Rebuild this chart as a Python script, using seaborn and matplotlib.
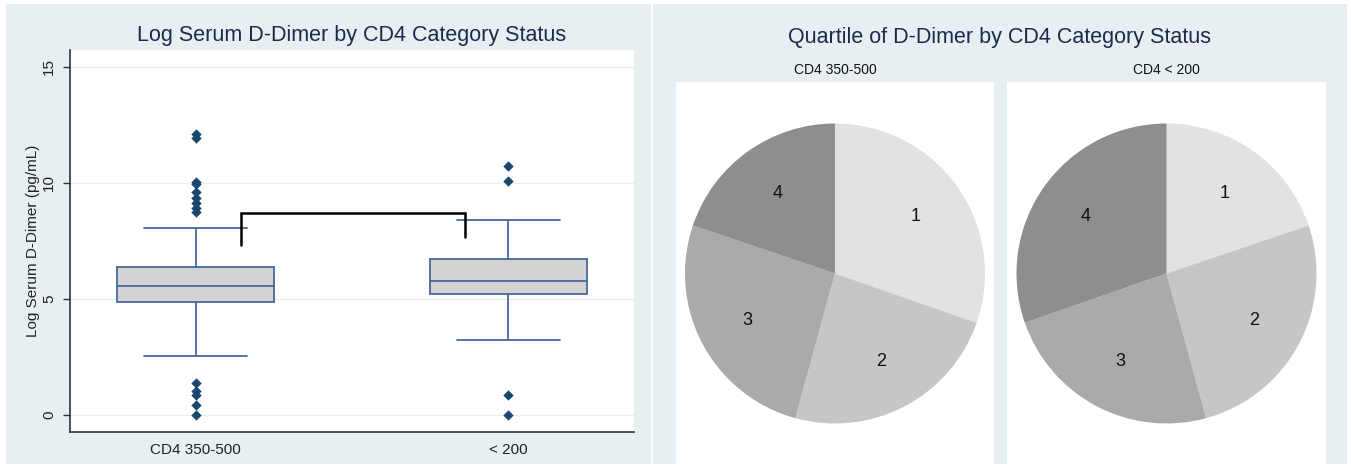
import matplotlib
matplotlib.use("Agg")
import matplotlib.pyplot as plt
import seaborn as sns
import pandas as pd
from matplotlib.patches import Rectangle

# ---------------- data ----------------
groups = ["CD4 350-500", "< 200"]
whisker_low = [2.54, 3.23]
q1 = [4.87, 5.22]
median = [5.56, 5.78]
q3 = [6.38, 6.72]
whisker_high = [8.06, 8.42]
outliers_g1 = [12.1, 11.95, 10.05, 9.95, 9.6, 9.35, 9.12, 8.9, 8.76,
               1.37, 1.05, 0.88, 0.43, 0.0]
outliers_g2 = [10.73, 10.09, 0.88, 0.0]
yticks = [0, 5, 10, 15]

bracket_x = [0.145, 0.145, 0.861, 0.861]
bracket_y = [7.33, 8.7, 8.7, 7.67]

pie_titles = ["CD4 350-500", "CD4 < 200"]
quartile_labels = ["1", "2", "3", "4"]
pie_g1 = [30.3, 23.9, 25.9, 19.8]
pie_g2 = [19.8, 25.9, 23.9, 30.3]

# ---------------- style ----------------
sns.set_theme(style="white")
plt.rcParams["font.family"] = ["Liberation Sans", "DejaVu Sans"]

W, H = 1351, 467
panel_bg = "#e8eff2"
title_col = "#1c2b4b"
box_edge = "#46699a"
box_fill = "#d3d3d3"
marker_col = "#1a476f"
pie_cols = ["#e2e2e2", "#c6c6c6", "#aaaaaa", "#8e8e8e"]

fig = plt.figure(figsize=(W / 100, H / 100), dpi=100, facecolor="white")

def fx(px):
    return px / W

def fy(py):
    return 1 - py / H

# panel backgrounds
fig.patches.append(Rectangle((fx(6), fy(464)), fx(645), 460 / H, transform=fig.transFigure,
                             facecolor=panel_bg, edgecolor="none", zorder=-10))
fig.patches.append(Rectangle((fx(653), fy(464)), fx(694), 460 / H, transform=fig.transFigure,
                             facecolor=panel_bg, edgecolor="none", zorder=-10))

# ---------------- box plot panel ----------------
ax = fig.add_axes([fx(70), fy(432), fx(564), 382 / H])
ax.set_facecolor("white")
stats = []
for i, g in enumerate(groups):
    stats.append(dict(label=g, whislo=whisker_low[i], q1=q1[i], med=median[i],
                      q3=q3[i], whishi=whisker_high[i], fliers=[]))
ax.bxp(stats, positions=[0, 1], widths=0.5, capwidths=0.33, patch_artist=True,
       showfliers=False,
       boxprops=dict(facecolor=box_fill, edgecolor=box_edge, linewidth=1.3),
       whiskerprops=dict(color=box_edge, linewidth=1.3),
       capprops=dict(color=box_edge, linewidth=1.3),
       medianprops=dict(color=box_edge, linewidth=1.3))

out_df = pd.DataFrame({
    "pos": [0] * len(outliers_g1) + [1] * len(outliers_g2),
    "value": outliers_g1 + outliers_g2,
})
sns.scatterplot(data=out_df, x="pos", y="value", ax=ax, marker="D", s=28,
                color=marker_col, edgecolor=marker_col, linewidth=0, zorder=5)

ax.plot(bracket_x, bracket_y, color="black", lw=1.8, solid_joinstyle="miter")

ax.set_xlim(-0.401, 1.401)
ax.set_ylim(-0.733, 15.73)
ax.set_xticks([0, 1])
ax.set_xticklabels(groups, fontsize=11, color="#222222")
ax.set_yticks(yticks)
ax.set_yticklabels([str(t) for t in yticks], fontsize=11, color="#222222")
ax.tick_params(axis="y", labelrotation=90, length=5, width=1, color="#333333", pad=5,
               left=True)
ax.tick_params(axis="x", length=0, pad=8)
for lab in ax.get_yticklabels():
    lab.set_va("center")
ax.set_xlabel("")
ax.set_ylabel("Log Serum D-Dimer (pg/mL)", fontsize=11, color="#222222")
ax.yaxis.set_label_coords(-(70 - 40) / 564, 0.5)
ax.yaxis.grid(True, color="#e6eef2", lw=1)
ax.xaxis.grid(False)
ax.set_axisbelow(True)
for s in ["top", "right"]:
    ax.spines[s].set_visible(False)
for s in ["left", "bottom"]:
    ax.spines[s].set_color("#333333")
    ax.spines[s].set_linewidth(1.2)

fig.text(fx(352), fy(35), "Log Serum D-Dimer by CD4 Category Status", ha="center",
         va="center", fontsize=15.5, color=title_col)

# ---------------- pie panels ----------------
fig.text(fx(1000), fy(37), "Quartile of D-Dimer by CD4 Category Status", ha="center",
         va="center", fontsize=15.5, color=title_col)

pie_boxes = [(676, 318), (1007, 319)]
pie_data = [pie_g1, pie_g2]
for (x0, w), vals, ttl in zip(pie_boxes, pie_data, pie_titles):
    pax = fig.add_axes([fx(x0), fy(465), fx(w), 383 / H])
    pax.pie(vals, labels=quartile_labels, colors=pie_cols, startangle=90,
            counterclock=False, labeldistance=0.66, radius=1,
            wedgeprops=dict(linewidth=0),
            textprops=dict(fontsize=13, color="#111111", ha="center", va="center"))
    pax.set_frame_on(True)
    pax.patch.set_visible(True)
    pax.set_facecolor("white")
    hx = (w / 2) / 150
    hy = (383 / 2) / 150
    pax.set_aspect("auto")
    pax.set_xlim(-hx, hx)
    pax.set_ylim(-hy, hy)
    pax.set_xticks([])
    pax.set_yticks([])
    for s in pax.spines.values():
        s.set_visible(False)
    fig.text(fx(x0 + w / 2), fy(70), ttl, ha="center", va="center", fontsize=10,
             color="#111111")

fig.savefig("out.png", dpi=100, facecolor="white")
